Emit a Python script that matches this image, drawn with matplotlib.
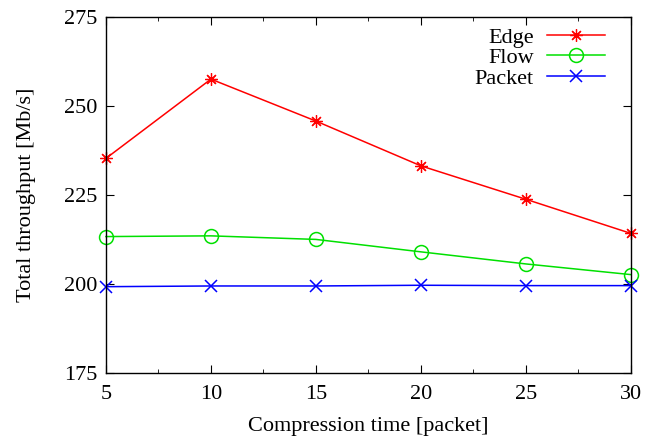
import matplotlib.pyplot as plt
from matplotlib.ticker import MultipleLocator

plt.rcParams['font.family'] = ['Liberation Serif', 'DejaVu Serif']

compression = [5, 10, 15, 20, 25, 30]
edge = [235.3, 257.6, 245.8, 233.2, 223.8, 214.2]
flow = [213.3, 213.5, 212.5, 209.0, 205.6, 202.6]
packet = [199.2, 199.4, 199.4, 199.6, 199.5, 199.5]

fig = plt.figure(figsize=(6.45, 4.41), dpi=100)
ax = fig.add_axes([0.1643, 0.1549, 0.8137, 0.8059])

ax.plot(compression, edge, color='#ff0000', lw=1.1, marker=(8, 2, 0),
        ms=9, mew=0.9, label='Edge', clip_on=False)
ax.plot(compression, flow, color='#00e000', lw=1.1, marker='o', ms=10,
        mfc='none', mew=1.1, label='Flow', clip_on=False)
ax.plot(compression, packet, color='#0000ff', lw=1.1, marker='x', ms=9,
        mew=1.1, label='Packet', clip_on=False)

ax.set_xlim(5, 30)
ax.set_ylim(175, 275)
ax.xaxis.set_major_locator(MultipleLocator(5))
ax.xaxis.set_minor_locator(MultipleLocator(2.5))
ax.yaxis.set_major_locator(MultipleLocator(25))
ax.tick_params(which='both', direction='in', top=True, right=True,
               labelsize=16)
ax.tick_params(axis='x', pad=9)
ax.tick_params(axis='y', pad=6)
ax.tick_params(which='major', length=6)
ax.tick_params(which='minor', length=3)
for s in ax.spines.values():
    s.set_linewidth(1.0)

ax.set_xlabel('Compression time [packet]', fontsize=16, labelpad=9)
ax.set_ylabel('Total throughput [Mb/s]', fontsize=16, labelpad=20)

ax.legend(loc='upper right', frameon=False, markerfirst=False, fontsize=16,
          handlelength=2.6, handletextpad=0.6, labelspacing=0.0,
          borderaxespad=0.2, bbox_to_anchor=(0.976, 1.01))

fig.savefig('out.png', dpi=100)
